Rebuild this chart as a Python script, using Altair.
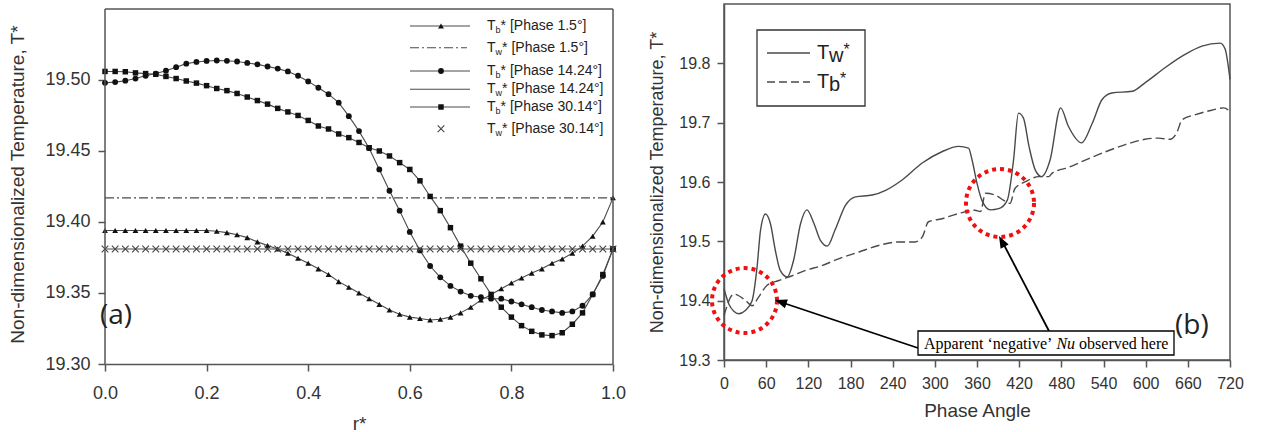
import altair as alt
import pandas as pd

# ---------------- Panel (a) data ----------------
R_STAR = [0.00, 0.02, 0.04, 0.06, 0.08, 0.10, 0.12, 0.14, 0.16, 0.18,
          0.20, 0.22, 0.24, 0.26, 0.28, 0.30, 0.32, 0.34, 0.36, 0.38,
          0.40, 0.42, 0.44, 0.46, 0.48, 0.50, 0.52, 0.54, 0.56, 0.58,
          0.60, 0.62, 0.64, 0.66, 0.68, 0.70, 0.72, 0.74, 0.76, 0.78,
          0.80, 0.82, 0.84, 0.86, 0.88, 0.90, 0.92, 0.94, 0.96, 0.98, 1.00]

TB_PHASE_1_5 = [19.394, 19.394, 19.394, 19.394, 19.394, 19.394, 19.394, 19.394, 19.394, 19.394,
                19.394, 19.3935, 19.3925, 19.391, 19.389, 19.386, 19.3835, 19.381, 19.378, 19.3745,
                19.371, 19.367, 19.363, 19.358, 19.354, 19.350, 19.346, 19.342, 19.338, 19.335,
                19.333, 19.332, 19.331, 19.3315, 19.333, 19.336, 19.340, 19.345, 19.349, 19.353,
                19.357, 19.3605, 19.364, 19.367, 19.371, 19.374, 19.378, 19.383, 19.390, 19.400, 19.417]

TB_PHASE_14_24 = [19.498, 19.4985, 19.4995, 19.501, 19.503, 19.5045, 19.5065, 19.509, 19.5115, 19.5127,
                  19.5134, 19.5137, 19.5135, 19.513, 19.512, 19.511, 19.5095, 19.508, 19.506, 19.503,
                  19.499, 19.4945, 19.490, 19.484, 19.4745, 19.464, 19.452, 19.437, 19.422, 19.408,
                  19.393, 19.380, 19.369, 19.361, 19.355, 19.351, 19.348, 19.347, 19.346, 19.346,
                  19.344, 19.342, 19.340, 19.338, 19.337, 19.336, 19.337, 19.341, 19.349, 19.362, 19.381]

TB_PHASE_30_14 = [19.506, 19.506, 19.5058, 19.505, 19.5045, 19.504, 19.5025, 19.501, 19.4993, 19.4978,
                  19.496, 19.494, 19.4925, 19.4905, 19.488, 19.4855, 19.483, 19.480, 19.4775, 19.475,
                  19.4715, 19.4676, 19.4655, 19.462, 19.4594, 19.456, 19.4523, 19.450, 19.4465, 19.4418,
                  19.437, 19.429, 19.418, 19.408, 19.396, 19.383, 19.371, 19.360, 19.349, 19.340,
                  19.333, 19.327, 19.323, 19.3205, 19.320, 19.322, 19.328, 19.336, 19.349, 19.363, 19.381]

TW_PHASE_1_5 = 19.417
TW_PHASE_14_24 = 19.381
TW_PHASE_30_14 = 19.381

LEFT_X_TICKS = [0.0, 0.2, 0.4, 0.6, 0.8, 1.0]
LEFT_Y_TICKS = [19.30, 19.35, 19.40, 19.45, 19.50]

# ---------------- Panel (b) data ----------------
PHASE_TW = [0, 7, 14, 21, 30, 40, 47, 52, 59, 66, 73, 80, 90, 99, 109, 118, 128, 137, 147, 158,
            173, 187, 211, 230, 253, 282, 310, 334, 348, 353, 360, 367, 379, 391, 403, 412, 419,
            426, 434, 443, 452, 464, 479, 490, 509, 524, 538, 552, 581, 599, 628, 656, 680,
            706, 713, 720]
TW_VALUES = [19.420, 19.394, 19.382, 19.378, 19.383, 19.400, 19.456, 19.519, 19.546, 19.530,
             19.485, 19.451, 19.440, 19.468, 19.530, 19.553, 19.530, 19.502, 19.492, 19.519,
             19.561, 19.575, 19.578, 19.586, 19.603, 19.632, 19.651, 19.660, 19.657, 19.637,
             19.598, 19.569, 19.553, 19.555, 19.569, 19.637, 19.716, 19.708, 19.660, 19.620,
             19.609, 19.637, 19.725, 19.694, 19.666, 19.699, 19.739, 19.750, 19.753, 19.767,
             19.793, 19.815, 19.829, 19.834, 19.824, 19.773]

PHASE_TB = [0, 14, 30, 40, 49, 61, 78, 97, 116, 139, 163, 192, 220, 249, 272, 282, 291, 310,
            334, 357, 365, 372, 386, 398, 407, 414, 429, 448, 462, 467, 476, 486, 514, 543,
            571, 599, 618, 635, 644, 652, 671, 694, 711, 720]
TB_VALUES = [19.375, 19.411, 19.401, 19.3915, 19.4055, 19.4255, 19.434, 19.442, 19.451, 19.459,
             19.4705, 19.482, 19.493, 19.499, 19.499, 19.507, 19.533, 19.538, 19.547, 19.5525,
             19.550, 19.581, 19.578, 19.569, 19.564, 19.589, 19.6005, 19.609, 19.609, 19.615,
             19.620, 19.623, 19.637, 19.651, 19.663, 19.672, 19.674, 19.672, 19.6825, 19.705,
             19.7135, 19.721, 19.725, 19.719]

RIGHT_X_TICKS = [0, 60, 120, 180, 240, 300, 360, 420, 480, 540, 600, 660, 720]
RIGHT_Y_TICKS = [19.3, 19.4, 19.5, 19.6, 19.7, 19.8]

# ---------------- styling ----------------
LINE = "#4a4a4a"
MARK = "#111111"
FRAME = "#555555"
SANS = "Liberation Sans"
SERIF = "Liberation Serif"
ONE = pd.DataFrame({"k": [0]})

# ---------------- Panel (a) ----------------
LW, LH = 508, 360
xl = alt.X("r:Q", scale=alt.Scale(domain=[0, 1], nice=False),
           axis=alt.Axis(values=LEFT_X_TICKS, format=".1f", title="r*",
                         labelFontSize=18, titleFontSize=19, labelPadding=13,
                         titlePadding=12, labelFlush=False))
yl = alt.Y("T:Q", scale=alt.Scale(domain=[19.30, 19.5535], nice=False, zero=False),
           axis=alt.Axis(values=LEFT_Y_TICKS, format=".2f",
                         title="Non-dimensionalized Temperature, T*",
                         labelFontSize=18, titleFontSize=19, labelPadding=8,
                         titlePadding=17, domain=False))


def tb_layers(values, shape, size):
    df = pd.DataFrame({"r": R_STAR, "T": values})
    base = alt.Chart(df)
    line = base.mark_line(color=LINE, strokeWidth=1.1).encode(x=xl, y=yl)
    pts = base.mark_point(shape=shape, filled=True, size=size, color=MARK,
                          opacity=1).encode(x=xl, y=yl)
    return [line, pts]


XSHAPE = "M-1,-1L1,1M1,-1L-1,1"
XCOL = "#444444"

tw15 = alt.Chart(pd.DataFrame({"r": [0.0, 1.0], "T": [TW_PHASE_1_5] * 2})).mark_line(
    color=LINE, strokeWidth=1.1, strokeDash=[9, 3, 2, 3]).encode(x=xl, y=yl)
tw1424 = alt.Chart(pd.DataFrame({"r": [0.0, 1.0], "T": [TW_PHASE_14_24] * 2})).mark_line(
    color=LINE, strokeWidth=1.1).encode(x=xl, y=yl)
tw3014 = alt.Chart(pd.DataFrame({"r": R_STAR, "T": [TW_PHASE_30_14] * len(R_STAR)})).mark_point(
    shape=XSHAPE, filled=False, size=44, color=XCOL, strokeWidth=1.1,
    opacity=1).encode(x=xl, y=yl)

# frame for panel (a)
frame_left = alt.Chart(ONE).mark_rule(color=FRAME, strokeWidth=1.5).encode(
    x=alt.datum(0.0), y=alt.datum(19.30), y2=alt.datum(19.55))
frame_right = alt.Chart(ONE).mark_rule(color=FRAME, strokeWidth=1.5).encode(
    x=alt.datum(1.0), y=alt.datum(19.30), y2=alt.datum(19.55))
frame_top = alt.Chart(ONE).mark_rule(color=FRAME, strokeWidth=1.5).encode(
    x=alt.datum(0.0), x2=alt.datum(1.0), y=alt.datum(19.55))

# legend of panel (a)
leg_rows = [
    ("b", "* [Phase 1.5°]", "tri", 22),
    ("w", "* [Phase 1.5°]", "dashdot", 43.7),
    ("b", "* [Phase 14.24°]", "circle", 67),
    ("w", "* [Phase 14.24°]", "solid", 85.3),
    ("b", "* [Phase 30.14°]", "square", 103),
    ("w", "* [Phase 30.14°]", "x", 124.7),
]
legend_layers = []
LX0, LX1, LXM, LXT = 305, 365, 336, 382
for sub, rest, kind, yy in leg_rows:
    if kind in ("tri", "circle", "square", "solid"):
        legend_layers.append(alt.Chart(ONE).mark_rule(color=LINE, strokeWidth=1.1).encode(
            x=alt.value(LX0), x2=alt.value(LX1), y=alt.value(yy)))
    if kind == "dashdot":
        legend_layers.append(alt.Chart(ONE).mark_rule(color=LINE, strokeWidth=1.1,
                                                      strokeDash=[9, 3, 2, 3]).encode(
            x=alt.value(LX0), x2=alt.value(LX1 - 3), y=alt.value(yy)))
    shapes = {"tri": ("triangle-up", 34), "circle": ("circle", 34), "square": ("square", 30)}
    if kind in shapes:
        legend_layers.append(alt.Chart(ONE).mark_point(
            shape=shapes[kind][0], size=shapes[kind][1], filled=True, color=MARK,
            opacity=1).encode(x=alt.value(LXM), y=alt.value(yy)))
    if kind == "x":
        legend_layers.append(alt.Chart(ONE).mark_point(
            shape=XSHAPE, filled=False, size=44, color=XCOL, strokeWidth=1.1,
            opacity=1).encode(x=alt.value(LXM), y=alt.value(yy)))
    legend_layers.append(alt.Chart(ONE).mark_text(
        text="T", font=SANS, fontSize=14, align="left", baseline="middle", color="#222").encode(
        x=alt.value(LXT), y=alt.value(yy)))
    legend_layers.append(alt.Chart(ONE).mark_text(
        text=sub, font=SANS, fontSize=9, align="left", baseline="middle", color="#222").encode(
        x=alt.value(LXT + 8.6), y=alt.value(yy + 4)))
    sub_w = 5.0 if sub == "b" else 6.5
    legend_layers.append(alt.Chart(ONE).mark_text(
        text=rest, font=SANS, fontSize=14, align="left", baseline="middle", color="#222").encode(
        x=alt.value(LXT + 8.6 + sub_w), y=alt.value(yy)))

label_a = alt.Chart(ONE).mark_text(
    text="(a)", font="Open Sans", fontSize=28, align="left", baseline="middle",
    color="#222").encode(x=alt.value(-5), y=alt.value(312))

left = alt.layer(
    *tb_layers(TB_PHASE_1_5, "triangle-up", 34),
    tw15,
    *tb_layers(TB_PHASE_14_24, "circle", 34),
    tw1424,
    *tb_layers(TB_PHASE_30_14, "square", 30),
    tw3014,
    frame_left, frame_right, frame_top,
    *legend_layers,
    label_a,
).properties(width=LW, height=LH, view=alt.ViewBackground(stroke="transparent"))

# ---------------- Panel (b) ----------------
RW, RH = 506, 356
xr = alt.X("phase:Q", scale=alt.Scale(domain=[0, 720], nice=False),
           axis=alt.Axis(values=RIGHT_X_TICKS, format="d", title="Phase Angle",
                         labelFontSize=16, titleFontSize=19, labelPadding=8,
                         titlePadding=10, labelFlush=False))
yr = alt.Y("T:Q", scale=alt.Scale(domain=[19.3, 19.9], nice=False, zero=False),
           axis=alt.Axis(values=RIGHT_Y_TICKS, format=".1f",
                         title="Non-dimensionalized Temperature, T*",
                         labelFontSize=16, titleFontSize=18, labelPadding=7,
                         titlePadding=12))

tw_line = alt.Chart(pd.DataFrame({"phase": PHASE_TW, "T": TW_VALUES})).mark_line(
    color=LINE, strokeWidth=1.4, interpolate="monotone").encode(x=xr, y=yr)
tb_line = alt.Chart(pd.DataFrame({"phase": PHASE_TB, "T": TB_VALUES})).mark_line(
    color=LINE, strokeWidth=1.4, strokeDash=[9, 4], interpolate="monotone").encode(x=xr, y=yr)

# legend box of panel (b)
rleg = [
    alt.Chart(ONE).mark_rect(fill="white", stroke="#333", strokeWidth=1.3).encode(
        x=alt.value(33), x2=alt.value(141), y=alt.value(26), y2=alt.value(102)),
    alt.Chart(ONE).mark_rule(color=LINE, strokeWidth=1.4).encode(
        x=alt.value(43), x2=alt.value(86), y=alt.value(49)),
    alt.Chart(ONE).mark_rule(color=LINE, strokeWidth=1.4, strokeDash=[8, 4]).encode(
        x=alt.value(43), x2=alt.value(86), y=alt.value(78)),
]
for sub, yy in (("w", 49), ("b", 78)):
    rleg.append(alt.Chart(ONE).mark_text(text="T", font=SANS, fontSize=20, align="left",
                                         baseline="middle", color="#222").encode(
        x=alt.value(93), y=alt.value(yy)))
    rleg.append(alt.Chart(ONE).mark_text(text=sub, font=SANS, fontSize=20, align="left",
                                         baseline="middle", color="#222").encode(
        x=alt.value(105), y=alt.value(yy + 3)))
    rleg.append(alt.Chart(ONE).mark_text(text="*", font=SANS, fontSize=16, align="left",
                                         baseline="middle", color="#222").encode(
        x=alt.value(105 + (14.4 if sub == "w" else 11.1)), y=alt.value(yy - 3)))

# annotations
RED = "#ee1111"
circ1 = alt.Chart(ONE).mark_point(shape="circle", size=4225, filled=False, color=RED,
                                  strokeWidth=4, strokeDash=[4, 4], opacity=1).encode(
    x=alt.value(20.5), y=alt.value(296.5))
circ2 = alt.Chart(ONE).mark_point(shape="circle", size=4624, filled=False, color=RED,
                                  strokeWidth=4, strokeDash=[4, 4], opacity=1).encode(
    x=alt.value(276), y=alt.value(199))
ARROW = "M0,0L-0.38,1L0.38,1Z"
arr1 = alt.Chart(ONE).mark_rule(color="black", strokeWidth=1.8).encode(
    x=alt.value(194), y=alt.value(344), x2=alt.value(58), y2=alt.value(298.5))
head1 = alt.Chart(ONE).mark_point(shape=ARROW, size=576, filled=True, color="black",
                                  opacity=1, angle=288.5).encode(x=alt.value(51), y=alt.value(296))
arr2 = alt.Chart(ONE).mark_rule(color="black", strokeWidth=1.8).encode(
    x=alt.value(325), y=alt.value(327), x2=alt.value(279), y2=alt.value(239))
head2 = alt.Chart(ONE).mark_point(shape=ARROW, size=576, filled=True, color="black",
                                  opacity=1, angle=332.2).encode(x=alt.value(275), y=alt.value(232))
box = alt.Chart(ONE).mark_rect(fill="white", stroke="black", strokeWidth=1.3).encode(
    x=alt.value(194), x2=alt.value(450), y=alt.value(327), y2=alt.value(351))
t1 = alt.Chart(ONE).mark_text(text="Apparent ‘negative’", font=SERIF, fontSize=16,
                              align="left", baseline="middle", color="black").encode(
    x=alt.value(200), y=alt.value(339.5))
t2 = alt.Chart(ONE).mark_text(text="Nu", font=SERIF, fontSize=16, fontStyle="italic",
                              align="left", baseline="middle", color="black").encode(
    x=alt.value(332.4), y=alt.value(339.5))
t3 = alt.Chart(ONE).mark_text(text="observed here", font=SERIF, fontSize=16,
                              align="left", baseline="middle", color="black").encode(
    x=alt.value(355.1), y=alt.value(339.5))
label_b = alt.Chart(ONE).mark_text(
    text="(b)", font="Open Sans", fontSize=28, align="left", baseline="middle",
    color="#222").encode(x=alt.value(451), y=alt.value(322))

right = alt.layer(
    tw_line, tb_line, *rleg, circ1, circ2, arr1, arr2, head1, head2, box, t1, t2, t3, label_b
).properties(width=RW, height=RH)

chart = alt.hconcat(left, right, spacing=21).properties(
    padding={"left": 8, "top": 3, "right": 0, "bottom": 0}
).configure_view(stroke=FRAME, strokeWidth=1.5).configure_axis(
    domainColor=FRAME, domainWidth=1.5, tickColor=FRAME, tickWidth=1.5, tickSize=7,
    labelColor="#333", titleColor="#333", labelFont=SANS, titleFont=SANS,
    titleFontWeight="normal", grid=False)

chart.save("out.html", embed_options={"renderer": "svg", "actions": False})
